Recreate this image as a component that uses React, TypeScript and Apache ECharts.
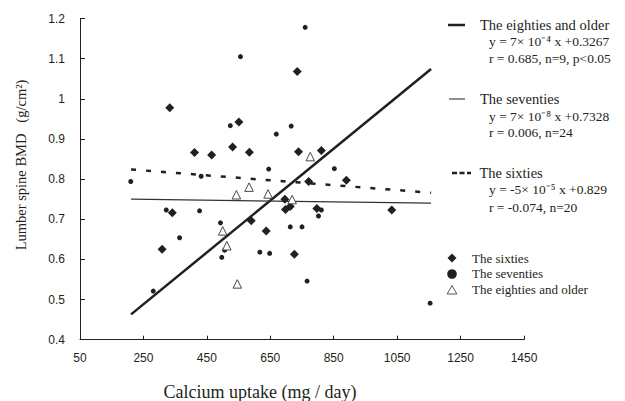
import React, { useEffect, useRef } from "react";
import * as echarts from "echarts";

// ---- data ----
const sixtiesX = [333, 551, 411, 465, 531, 584, 341, 309, 590, 735, 739, 811, 771, 890, 696, 698, 713, 797, 1033, 637, 726];
const sixtiesY = [0.978, 0.942, 0.866, 0.86, 0.88, 0.867, 0.716, 0.625, 0.696, 1.068, 0.868, 0.871, 0.794, 0.797, 0.75, 0.724, 0.732, 0.727, 0.723, 0.671, 0.613];

const seventiesX = [210, 524, 432, 322, 427, 493, 364, 506, 497, 617, 281, 760, 716, 669, 645, 852, 811, 802, 713, 750, 648, 766, 1154, 556];
const seventiesY = [0.794, 0.933, 0.807, 0.723, 0.721, 0.691, 0.654, 0.623, 0.605, 0.618, 0.521, 1.178, 0.932, 0.912, 0.825, 0.826, 0.723, 0.708, 0.681, 0.681, 0.615, 0.546, 0.491, 1.105];

const eightiesX = [583, 543, 500, 513, 546, 776, 643, 719];
const eightiesY = [0.78, 0.761, 0.671, 0.634, 0.539, 0.856, 0.763, 0.749];

// regression lines (end points as drawn)
const fitX = [211, 1157];
const eightiesFit = [0.463, 1.074];
const seventiesFit = [0.75, 0.74];
const sixtiesFit = [0.824, 0.766];

const INK = "#231f20";
const SERIF = '"Liberation Serif", "Times New Roman", serif';
const SANS = '"Liberation Sans", Arial, sans-serif';

const pairs = (xs: number[], ys: number[]) => xs.map((x, i) => [x, ys[i]]);

export default function App() {
  const ref = useRef<HTMLDivElement>(null);
  useEffect(() => {
    const chart = echarts.init(ref.current!, null, { renderer: "svg" });
    const legendText = (x: number, y: number, text: string, size: number) => ({
      type: "text",
      x,
      y,
      style: { text, fill: INK, font: `${size}px ${SERIF}`, verticalAlign: "middle", align: "left" },
    });
    chart.setOption({
      animation: false,
      backgroundColor: "#ffffff",
      grid: { left: 80, right: 101, top: 18.5, bottom: 61.3 },
      xAxis: {
        type: "value",
        min: 50,
        max: 1450,
        interval: 200,
        splitLine: { show: false },
        axisLine: { lineStyle: { color: INK, width: 1 } },
        axisTick: { inside: true, length: 4, lineStyle: { color: INK } },
        axisLabel: {
          color: INK,
          fontSize: 12,
          fontFamily: SANS,
          margin: 12,
          formatter: (v: number) => String(Math.round(v)),
        },
      },
      yAxis: {
        type: "value",
        min: 0.4,
        max: 1.2,
        interval: 0.1,
        splitLine: { show: false },
        axisLine: { show: true, lineStyle: { color: INK, width: 1 } },
        axisTick: { show: true, inside: true, length: 5, lineStyle: { color: INK } },
        axisLabel: {
          color: INK,
          fontSize: 12,
          fontFamily: SANS,
          margin: 15,
          formatter: (v: number) => String(Math.round(v * 10) / 10),
        },
      },
      series: [
        {
          type: "line",
          name: "eighties fit",
          data: pairs(fitX, eightiesFit),
          showSymbol: false,
          lineStyle: { color: INK, width: 2.5 },
          z: 2,
        },
        {
          type: "line",
          name: "seventies fit",
          data: pairs(fitX, seventiesFit),
          showSymbol: false,
          lineStyle: { color: "#333", width: 1.2 },
          z: 2,
        },
        {
          type: "line",
          name: "sixties fit",
          data: pairs(fitX, sixtiesFit),
          showSymbol: false,
          lineStyle: { color: INK, width: 2.5, type: [5, 10] },
          z: 2,
        },
        {
          type: "scatter",
          name: "The sixties",
          data: pairs(sixtiesX, sixtiesY),
          symbol: "diamond",
          symbolSize: 9,
          itemStyle: { color: INK, opacity: 1 },
          z: 3,
        },
        {
          type: "scatter",
          name: "The seventies",
          data: pairs(seventiesX, seventiesY),
          symbol: "circle",
          symbolSize: 5,
          itemStyle: { color: INK, opacity: 1 },
          z: 3,
        },
        {
          type: "scatter",
          name: "The eighties and older",
          data: pairs(eightiesX, eightiesY),
          symbol: "triangle",
          symbolSize: 8.5,
          itemStyle: { color: "#ffffff", borderColor: "#333", borderWidth: 0.9, opacity: 1 },
          z: 4,
        },
      ],
      graphic: [
        // axis titles
        {
          type: "text",
          x: 260,
          y: 392,
          style: { text: "Calcium uptake (mg / day)", fill: INK, font: `18px ${SERIF}`, align: "center", verticalAlign: "middle" },
        },
        {
          type: "text",
          x: 21,
          y: 165,
          rotation: Math.PI / 2,
          style: { text: "Lumber spine BMD   (g/cm²)", fill: INK, font: `14.5px ${SERIF}`, align: "center", verticalAlign: "middle" },
        },
        // regression legend
        { type: "line", shape: { x1: 448, y1: 25, x2: 465, y2: 25 }, style: { stroke: INK, lineWidth: 2.5 } },
        legendText(480, 25, "The eighties and older", 14.5),
        legendText(489, 41, "y = 7× 10⁻⁴ x +0.3267", 13.5),
        legendText(489, 58.5, "r = 0.685, n=9, p<0.05", 13.5),
        { type: "line", shape: { x1: 449, y1: 99, x2: 465, y2: 99 }, style: { stroke: INK, lineWidth: 1 } },
        legendText(480, 99.3, "The seventies", 14.5),
        legendText(489, 116.5, "y = 7× 10⁻⁸ x +0.7328", 13.5),
        legendText(489, 132.5, "r = 0.006, n=24", 13.5),
        { type: "line", shape: { x1: 452, y1: 173, x2: 471, y2: 173 }, style: { stroke: INK, lineWidth: 2.5, lineDash: [5, 2.5] } },
        legendText(479.5, 173.3, "The sixties", 14.5),
        legendText(489, 189, "y = -5× 10⁻⁵ x +0.829", 13.5),
        legendText(489, 207, "r = -0.074, n=20", 13.5),
        // marker legend
        {
          type: "polygon",
          shape: { points: [[452, 253.5], [456.5, 258], [452, 262.5], [447.5, 258]] },
          style: { fill: INK },
        },
        legendText(472, 258.3, "The sixties", 13),
        { type: "circle", shape: { cx: 452, cy: 274, r: 4.8 }, style: { fill: INK } },
        legendText(472, 273.5, "The seventies", 13),
        {
          type: "polygon",
          shape: { points: [[452, 285.5], [456.8, 294], [447.2, 294]] },
          style: { fill: "#fff", stroke: "#444", lineWidth: 0.9 },
        },
        legendText(472, 289.5, "The eighties and older", 13),
      ],
    });
    return () => chart.dispose();
  }, []);
  return (
    <div
      ref={ref}
      style={{ position: "fixed", left: 0, top: 0, width: 625, height: 401, background: "#fff" }}
    />
  );
}
